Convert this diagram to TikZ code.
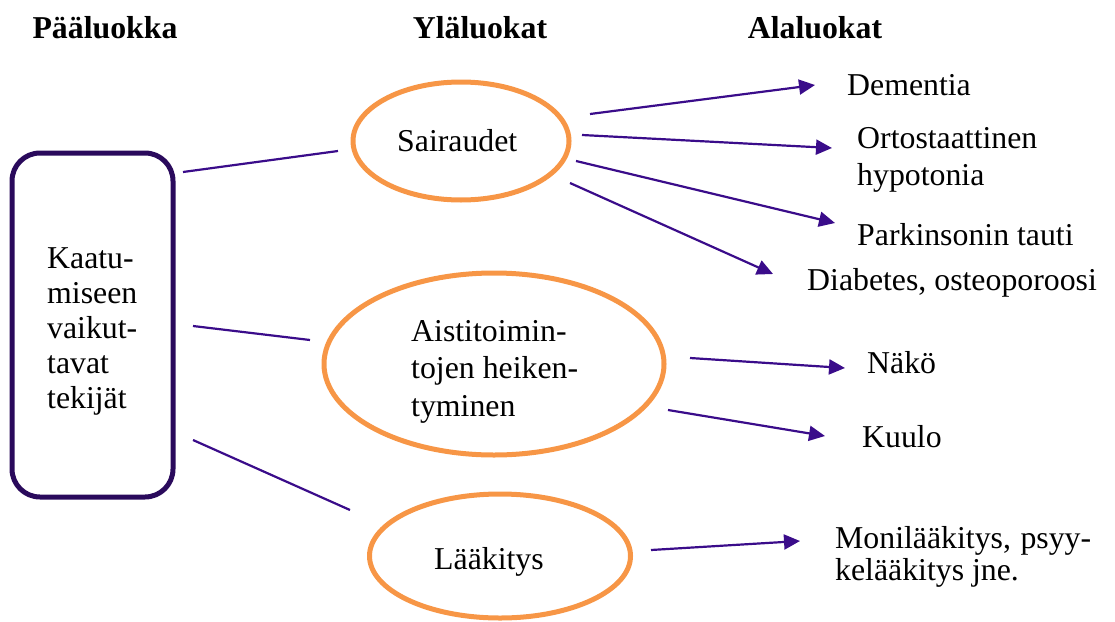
\documentclass[tikz,border=0pt]{standalone}
\usepackage{fontspec}
\setmainfont{Liberation Serif}
\usetikzlibrary{arrows.meta,shapes.geometric}
\definecolor{boxc}{HTML}{2A0A5C}
\definecolor{linec}{HTML}{3A0C8A}
\definecolor{orng}{HTML}{F79646}
\begin{document}
\begin{tikzpicture}[x=1pt,y=-1pt,
  txt/.style={inner sep=0pt, anchor=base west, align=left, font=\fontsize{31.8pt}{37pt}\selectfont},
  hdr/.style={inner sep=0pt, anchor=base, font=\fontsize{31.8pt}{37pt}\selectfont\bfseries},
  oval/.style={draw=orng, line width=5pt, ellipse, inner sep=0pt},
  mainbox/.style={draw=boxc, line width=5pt, rounded corners=28pt, inner sep=0pt},
  conn/.style={draw=linec, line width=2.2pt},
  arr/.style={conn, -{Triangle[length=16pt,width=15pt]}}]
\useasboundingbox (0,0) rectangle (1115,621);
% headers
\node[hdr] (h1) at (105,38) {Pääluokka};
\node[hdr] (h2) at (480,38) {Yläluokat};
\node[hdr] (h3) at (815,38) {Alaluokat};
% main box
\node[mainbox, minimum width=161pt, minimum height=344pt] (main) at (92.5,325) {};
\node[txt, font=\fontsize{31.8pt}{35pt}\selectfont] (maintxt) at (47,408) {Kaatu-\\miseen\\vaikut-\\tavat\\tekijät};
% ellipses
\node[oval, minimum width=216pt, minimum height=118pt] (sair) at (461,141) {};
\node[txt] (sairtxt) at (397,151) {Sairaudet};
\node[oval, minimum width=340pt, minimum height=182pt] (aist) at (494,364) {};
\node[txt, font=\fontsize{31.8pt}{37.5pt}\selectfont] (aisttxt) at (411,416) {Aistitoimin-\\tojen heiken-\\tyminen};
\node[oval, minimum width=261pt, minimum height=124pt] (laak) at (500,556) {};
\node[txt] (laaktxt) at (434,569) {Lääkitys};
% leaves
\node[txt] (dem) at (847,95) {Dementia};
\node[txt] (ort) at (857,185) {Ortostaattinen\\hypotonia};
\node[txt] (par) at (857,245) {Parkinsonin tauti};
\node[txt] (dia) at (807,290) {Diabetes, osteoporoosi};
\node[txt] (nak) at (867,373) {Näkö};
\node[txt] (kuu) at (862,447) {Kuulo};
\node[txt, font=\fontsize{31.8pt}{32pt}\selectfont] (mon) at (835,580) {Monilääkitys,\hspace{0.3em}psyy-\\kelääkitys jne.};
% connector end points
\coordinate (m1) at (183,172); \coordinate (s0) at (338,151);
\coordinate (m2) at (193,326); \coordinate (a0) at (310,340);
\coordinate (m3) at (193,440); \coordinate (l0) at (350,510);
\coordinate (s1) at (590,114); \coordinate (t1) at (815,85);
\coordinate (s2) at (582,135); \coordinate (t2) at (832,148);
\coordinate (s3) at (576,161); \coordinate (t3) at (835,223);
\coordinate (s4) at (570,183); \coordinate (t4) at (773,274);
\coordinate (a1) at (690,358); \coordinate (t5) at (845,368);
\coordinate (a2) at (668,410); \coordinate (t6) at (825,436);
\coordinate (l1) at (651,550); \coordinate (t7) at (800,541);
% connectors
\draw[conn] (m1) -- (s0);
\draw[conn] (m2) -- (a0);
\draw[conn] (m3) -- (l0);
\draw[arr] (s1) -- (t1);
\draw[arr] (s2) -- (t2);
\draw[arr] (s3) -- (t3);
\draw[arr] (s4) -- (t4);
\draw[arr] (a1) -- (t5);
\draw[arr] (a2) -- (t6);
\draw[arr] (l1) -- (t7);
\end{tikzpicture}
\end{document}
